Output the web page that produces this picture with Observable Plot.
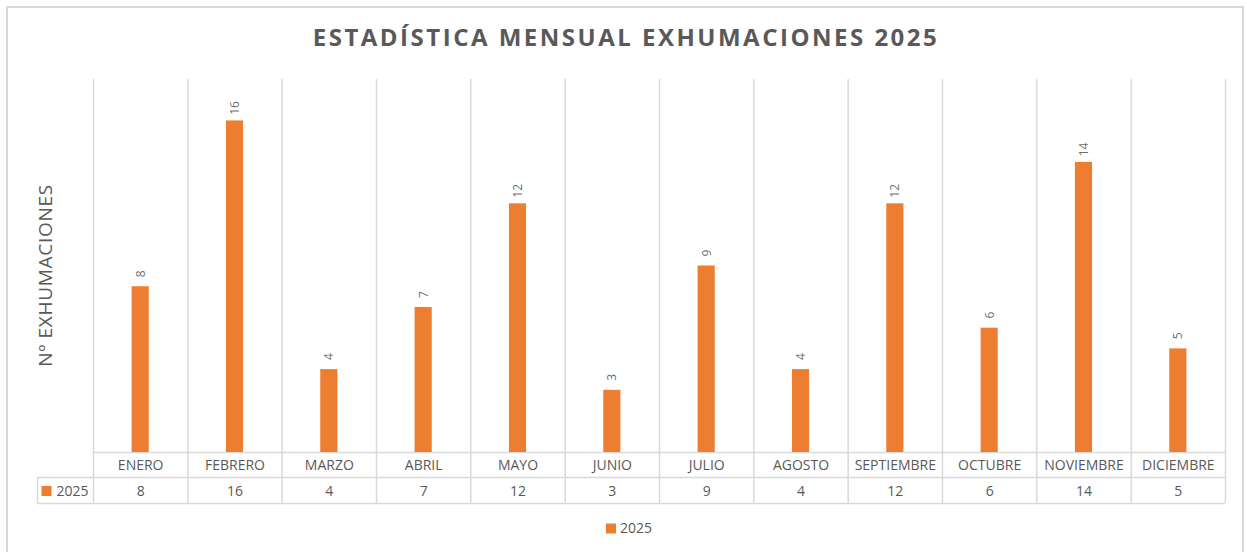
<!DOCTYPE html>
<html>
<head>
<meta charset="utf-8">
<script src="https://cdn.jsdelivr.net/npm/d3@7"></script>
<script src="https://cdn.jsdelivr.net/npm/@observablehq/plot@0.6"></script>
<style>
  html, body { margin: 0; padding: 0; background: #fff; overflow: hidden; }
  #wrap { position: relative; width: 1247px; height: 552px; }
  #border { position: absolute; left: 6px; top: 6px; width: 1238px; height: 600px; border: 1px solid #d9d9d9; box-sizing: border-box; border-width: 2px 2px 0 2px; }
  #chart { position: absolute; left: 0; top: 0; }
</style>
</head>
<body>
<div id="wrap"><div id="border"></div><div id="chart"></div></div>
<script>
const title = "ESTADÍSTICA MENSUAL EXHUMACIONES 2025";
const yLabel = "Nº EXHUMACIONES";
const seriesName = "2025";
const months = ["ENERO", "FEBRERO", "MARZO", "ABRIL", "MAYO", "JUNIO", "JULIO", "AGOSTO", "SEPTIEMBRE", "OCTUBRE", "NOVIEMBRE", "DICIEMBRE"];
const values2025 = [8, 16, 4, 7, 12, 3, 9, 4, 12, 6, 14, 5];
const yMax = 18;

const data = months.map((m, i) => ({month: m, value: values2025[i], i}));
const boundaries = d3.range(months.length + 1);

const orange = "#ED7D31";
const grid = "#d9d9d9";
const textColor = "#595959";
const font = "Open Sans";

const chart = Plot.plot({
  width: 1247,
  height: 552,
  marginLeft: 93,
  marginRight: 22,
  marginTop: 79,
  marginBottom: 100,
  style: {fontFamily: font, background: "transparent", overflow: "visible"},
  x: {type: "linear", domain: [0, months.length], axis: null},
  y: {domain: [0, yMax], axis: null},
  marks: [
    // vertical gridlines extending through the table
    Plot.ruleX(boundaries, {x: d => d, stroke: grid, strokeWidth: 1.5, insetBottom: -51}),
    // left border of legend cell
    Plot.ruleX([0], {x: d => d, dx: -56, stroke: grid, strokeWidth: 1.5, insetTop: 398, insetBottom: -51}),
    // horizontal table lines
    Plot.ruleY([0], {y: d => d, stroke: grid, strokeWidth: 1.5}),
    Plot.ruleY([0], {y: d => d, dy: 25, stroke: grid, strokeWidth: 1.5, insetLeft: -56}),
    Plot.ruleY([0], {y: d => d, dy: 51, stroke: grid, strokeWidth: 1.5, insetLeft: -56}),
    // bars
    Plot.rectY(data, {x1: "i", x2: d => d.i + 1, y: "value", fill: orange, insetLeft: 38.6, insetRight: 38.6}),
    // data labels
    Plot.text(data, {x: d => d.i + 0.5, y: "value", text: d => String(d.value), rotate: -90, dy: -13, fontSize: 12, fill: textColor, fillOpacity: 0.9}),
    // table: category row
    Plot.text(data, {x: d => d.i + 0.5, text: "month", frameAnchor: "bottom", lineAnchor: "middle", dy: 13, fontSize: 14, fill: textColor}),
    // table: value row
    Plot.text(data, {x: d => d.i + 0.5, text: d => String(d.value), frameAnchor: "bottom", lineAnchor: "middle", dy: 39, fontSize: 14, fill: textColor}),
    // table: legend key
    Plot.dot([seriesName], {frameAnchor: "bottom-left", dx: -47, dy: 38.5, symbol: "square", r: 5.64, fill: orange, stroke: null}),
    Plot.text([seriesName], {frameAnchor: "bottom-left", lineAnchor: "middle", dx: -37, dy: 39, text: d => d, textAnchor: "start", fontSize: 14, fill: textColor}),
    // bottom legend
    Plot.dot([seriesName], {frameAnchor: "bottom", dx: -48.5, dy: 76, symbol: "square", r: 5.64, fill: orange, stroke: null}),
    Plot.text([seriesName], {frameAnchor: "bottom", lineAnchor: "middle", dx: -39.5, dy: 76, text: d => d, textAnchor: "start", fontSize: 14, fill: textColor}),
    // title
    Plot.text([title], {frameAnchor: "top", lineAnchor: "middle", textAnchor: "middle", dx: -33.5, dy: -41, text: d => d, fontSize: 24, fontWeight: "bold", fill: textColor}),
    // y label
    Plot.text([yLabel], {frameAnchor: "left", lineAnchor: "middle", textAnchor: "middle", dx: -48, dy: 9.5, text: d => d, rotate: -90, fontSize: 19, fill: textColor})
  ]
});
// letter spacing (not a Plot text option) applied to the title and the y label
d3.select(chart).selectAll("text")
  .filter(function() { return this.textContent === title; })
  .attr("letter-spacing", 2.5);
d3.select(chart).selectAll("text")
  .filter(function() { return this.textContent === yLabel; })
  .attr("letter-spacing", 0.7);
document.getElementById("chart").appendChild(chart);
</script>
</body>
</html>
